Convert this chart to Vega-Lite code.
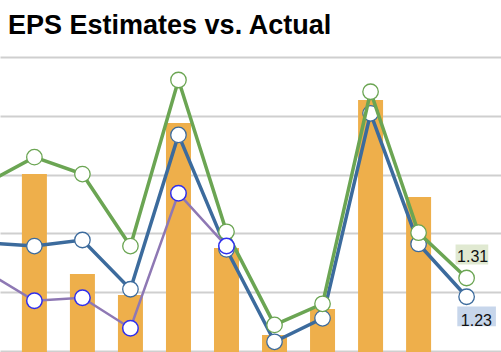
{
  "$schema": "https://vega.github.io/schema/vega-lite/v6.json",
  "width": 501,
  "height": 312,
  "autosize": {"type": "none"},
  "padding": {"top": 40, "left": 0, "right": 0, "bottom": 0},
  "background": "white",
  "config": {"view": {"stroke": null}},
  "title": {
    "text": "EPS Estimates vs. Actual",
    "font": "Liberation Sans",
    "fontSize": 27,
    "fontWeight": "bold",
    "color": "#000000",
    "anchor": "start",
    "frame": "group",
    "baseline": "alphabetic",
    "offset": 3,
    "dx": 8,
    "dy": 24
  },
  "datasets": {
    "actual": [
      {"cat": 1, "eps": 1.753},
      {"cat": 2, "eps": 1.327},
      {"cat": 3, "eps": 1.2375},
      {"cat": 4, "eps": 1.971},
      {"cat": 5, "eps": 1.438},
      {"cat": 6, "eps": 1.067},
      {"cat": 7, "eps": 1.178},
      {"cat": 8, "eps": 2.069},
      {"cat": 9, "eps": 1.655}
    ],
    "estimates": [
      {"series": "Consensus", "cat": 0, "eps": 1.715},
      {"series": "Consensus", "cat": 1, "eps": 1.825},
      {"series": "Consensus", "cat": 2, "eps": 1.753},
      {"series": "Consensus", "cat": 3, "eps": 1.446},
      {"series": "Consensus", "cat": 4, "eps": 2.154},
      {"series": "Consensus", "cat": 5, "eps": 1.507},
      {"series": "Consensus", "cat": 6, "eps": 1.11},
      {"series": "Consensus", "cat": 7, "eps": 1.2},
      {"series": "Consensus", "cat": 8, "eps": 2.104},
      {"series": "Consensus", "cat": 9, "eps": 1.503},
      {"series": "Consensus", "cat": 10, "eps": 1.31},
      {"series": "Company", "cat": 0, "eps": 1.46},
      {"series": "Company", "cat": 1, "eps": 1.446},
      {"series": "Company", "cat": 2, "eps": 1.472},
      {"series": "Company", "cat": 3, "eps": 1.262},
      {"series": "Company", "cat": 4, "eps": 1.92},
      {"series": "Company", "cat": 5, "eps": 1.432},
      {"series": "Company", "cat": 6, "eps": 1.038},
      {"series": "Company", "cat": 7, "eps": 1.138},
      {"series": "Company", "cat": 8, "eps": 2.012},
      {"series": "Company", "cat": 9, "eps": 1.455},
      {"series": "Company", "cat": 10, "eps": 1.23},
      {"series": "Model", "cat": 0, "eps": 1.336},
      {"series": "Model", "cat": 1, "eps": 1.213},
      {"series": "Model", "cat": 2, "eps": 1.226},
      {"series": "Model", "cat": 3, "eps": 1.096},
      {"series": "Model", "cat": 4, "eps": 1.671},
      {"series": "Model", "cat": 5, "eps": 1.446}
    ]
  },
  "encoding": {
    "x": {"field": "cat", "type": "quantitative", "scale": {"domain": [0.3878, 10.612], "nice": false, "zero": false}, "axis": null},
    "y": {"field": "eps", "type": "quantitative", "scale": {"domain": [0.99446, 2.3246], "nice": false, "zero": false},
      "axis": {"values": [1, 1.25, 1.5, 1.75, 2, 2.25], "grid": true, "gridColor": "#cfcfcf", "gridWidth": 2, "domain": false, "ticks": false, "labels": false, "title": null}}
  },
  "layer": [
    {"data": {"name": "actual"}, "mark": {"type": "bar", "size": 25, "color": "#EEAF4B", "clip": true}},
    {"data": {"name": "estimates"}, "transform": [{"filter": "datum.series === 'Company'"}],
      "mark": {"type": "line", "color": "#3C6B9D", "strokeWidth": 3.5, "clip": true}},
    {"data": {"name": "estimates"}, "transform": [{"filter": "datum.series === 'Company'"}],
      "mark": {"type": "point", "shape": "circle", "size": 240, "filled": true, "fill": "white", "stroke": "#3C6B9D", "strokeWidth": 1.3, "opacity": 1, "clip": true}},
    {"data": {"name": "estimates"}, "transform": [{"filter": "datum.series === 'Consensus'"}],
      "mark": {"type": "line", "color": "#6BA553", "strokeWidth": 3.5, "clip": true}},
    {"data": {"name": "estimates"}, "transform": [{"filter": "datum.series === 'Consensus'"}],
      "mark": {"type": "point", "shape": "circle", "size": 240, "filled": true, "fill": "white", "stroke": "#6BA553", "strokeWidth": 1.3, "opacity": 1, "clip": true}},
    {"data": {"name": "estimates"}, "transform": [{"filter": "datum.series === 'Model'"}],
      "mark": {"type": "line", "color": "#8E78B4", "strokeWidth": 2.5, "clip": true}},
    {"data": {"name": "estimates"}, "transform": [{"filter": "datum.series === 'Model'"}],
      "mark": {"type": "point", "shape": "circle", "size": 240, "filled": true, "fill": "white", "stroke": "#2E2EEE", "strokeWidth": 1.5, "opacity": 1, "clip": true}},
    {"data": {"name": "estimates"}, "transform": [{"filter": "datum.series === 'Consensus' && datum.cat === 10"}],
      "mark": {"type": "point", "shape": "M-1,-0.612H1V0.612H-1Z", "size": 1069, "filled": true, "fill": "#E0E9D1", "strokeWidth": 0, "opacity": 1, "xOffset": 5.3, "yOffset": -23.6}},
    {"data": {"name": "estimates"}, "transform": [{"filter": "datum.series === 'Consensus' && datum.cat === 10"}],
      "mark": {"type": "text", "font": "Liberation Sans", "fontSize": 16, "color": "#111111", "align": "center", "baseline": "alphabetic", "dx": 6, "dy": -15.8},
      "encoding": {"text": {"field": "eps", "type": "quantitative", "format": ".2f"}}},
    {"data": {"name": "estimates"}, "transform": [{"filter": "datum.series === 'Company' && datum.cat === 10"}],
      "mark": {"type": "point", "shape": "M-1,-0.51H1V0.51H-1Z", "size": 1490, "filled": true, "fill": "#C7D6EB", "strokeWidth": 0, "opacity": 1, "xOffset": 10, "yOffset": 19.7}},
    {"data": {"name": "estimates"}, "transform": [{"filter": "datum.series === 'Company' && datum.cat === 10"}],
      "mark": {"type": "text", "font": "Liberation Sans", "fontSize": 16, "color": "#111111", "align": "center", "baseline": "alphabetic", "dx": 9.8, "dy": 28.9},
      "encoding": {"text": {"field": "eps", "type": "quantitative", "format": ".2f"}}}
  ]
}
